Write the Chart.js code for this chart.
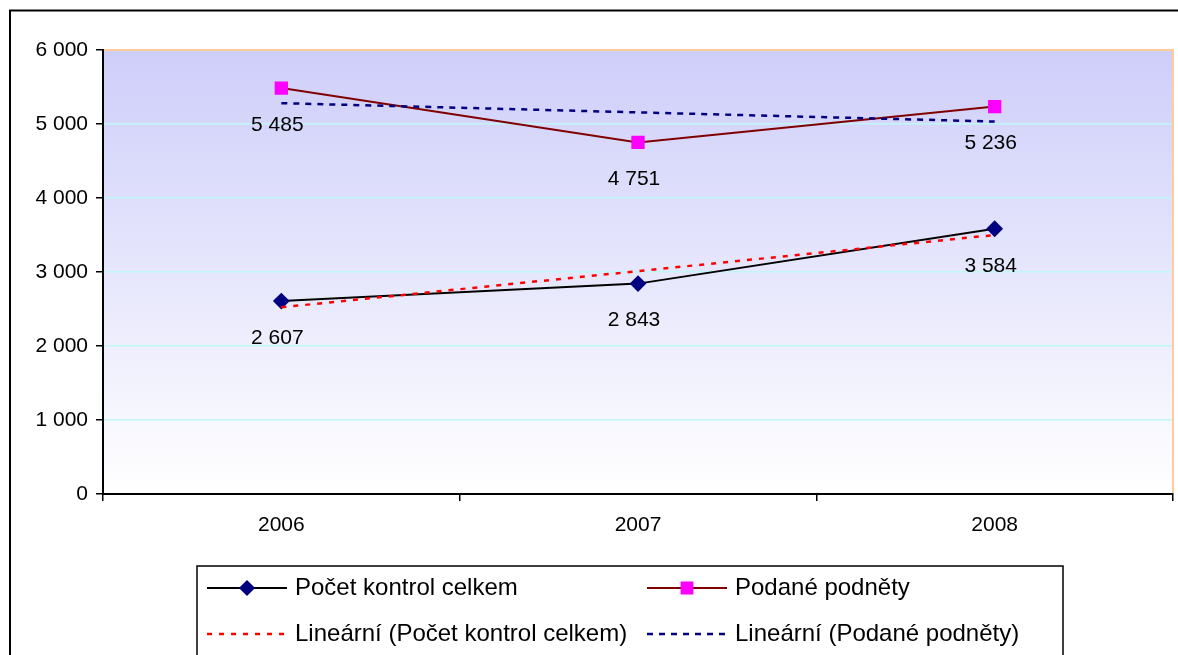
<!DOCTYPE html>
<html>
<head>
<meta charset="utf-8">
<script src="https://cdn.jsdelivr.net/npm/chart.js@4"></script>
<style>
  html, body { margin: 0; padding: 0; background: #fff; overflow: hidden; }
  #wrap { width: 1178px; height: 655px; position: relative; }
  canvas { display: block; }
</style>
</head>
<body>
<div id="wrap"><canvas id="chart"></canvas></div>
<script>
const years = ["2006", "2007", "2008"];
const pocetKontrol = [2607, 2843, 3584];
const podanePodnety = [5485, 4751, 5236];
// linear trend values
const trendPocet = [2523, 3012, 3500];
const trendPodane = [5282, 5157, 5033];
const yTicks = [0, 1000, 2000, 3000, 4000, 5000, 6000];

const FONT = '"Liberation Sans", Arial, sans-serif';

function fmt(v) {
  return String(v).replace(/\B(?=(\d{3})+(?!\d))/g, " ");
}

// plot background, frame, outer border
const backgroundPlugin = {
  id: "plotBackground",
  beforeDraw(chart) {
    const { ctx, chartArea: a } = chart;
    ctx.save();
    const g = ctx.createLinearGradient(0, a.top, 0, a.bottom);
    g.addColorStop(0, "rgb(206, 206, 250)");
    g.addColorStop(1, "rgb(255, 255, 255)");
    ctx.fillStyle = g;
    ctx.fillRect(a.left, a.top, a.right - a.left, a.bottom - a.top);
    ctx.restore();
  },
  afterDraw(chart) {
    const { ctx, chartArea: a } = chart;
    ctx.save();
    ctx.strokeStyle = "#ffcc99";
    ctx.lineWidth = 2;
    ctx.beginPath();
    ctx.moveTo(a.left + 1, a.top);
    ctx.lineTo(a.right, a.top);
    ctx.lineTo(a.right, a.bottom - 1);
    ctx.stroke();
    // outer chart border
    ctx.strokeStyle = "#000";
    ctx.lineWidth = 2;
    ctx.strokeRect(10, 10.5, 1200, 700);
    ctx.restore();
  },
};

// value labels under the two main series
const labelPlugin = {
  id: "valueLabels",
  afterDatasetsDraw(chart) {
    const { ctx } = chart;
    ctx.save();
    ctx.font = "21px " + FONT;
    ctx.fillStyle = "#000";
    ctx.textAlign = "center";
    ctx.textBaseline = "middle";
    [0, 1].forEach((di) => {
      const meta = chart.getDatasetMeta(di);
      const values = chart.data.datasets[di].data;
      meta.data.forEach((pt, i) => {
        ctx.fillText(fmt(values[i]), pt.x - 4, pt.y + 37);
      });
    });
    ctx.restore();
  },
};

// legend box at the bottom, two columns
const legendPlugin = {
  id: "boxLegend",
  afterDraw(chart) {
    const { ctx } = chart;
    const ds = chart.data.datasets;
    ctx.save();
    ctx.strokeStyle = "#000";
    ctx.lineWidth = 1.5;
    ctx.strokeRect(197, 566, 866, 200);

    const cols = [207, 647];
    const rows = [588, 634];
    ctx.font = "24px " + FONT;
    ctx.textBaseline = "middle";
    ds.forEach((d, i) => {
      const x = cols[i % 2];
      const y = rows[Math.floor(i / 2)];
      ctx.save();
      ctx.strokeStyle = d.borderColor;
      ctx.lineWidth = d.borderWidth;
      ctx.setLineDash(d.borderDash || []);
      ctx.beginPath();
      ctx.moveTo(x, y);
      ctx.lineTo(x + 80, y);
      ctx.stroke();
      ctx.restore();
      if (d.pointRadius > 0) {
        ctx.fillStyle = d.pointBackgroundColor;
        ctx.strokeStyle = d.pointBackgroundColor;
        Chart.helpers.drawPoint(ctx, {
          pointStyle: d.pointStyle,
          radius: d.pointRadius,
          borderWidth: 1,
          rotation: 0,
        }, x + 40, y);
      }
      ctx.fillStyle = "#000";
      ctx.fillText(d.label, x + 88, y);
    });
    ctx.restore();
  },
};

new Chart(document.getElementById("chart"), {
  type: "line",
  data: {
    labels: years,
    datasets: [
      {
        label: "Počet kontrol celkem",
        data: pocetKontrol,
        borderColor: "#000000",
        borderWidth: 2,
        pointStyle: "rectRot",
        pointRadius: 7,
        pointBackgroundColor: "#000080",
        pointBorderColor: "#000080",
        tension: 0,
        order: 3,
      },
      {
        label: "Podané podněty",
        data: podanePodnety,
        borderColor: "#800000",
        borderWidth: 2,
        pointStyle: "rect",
        pointRadius: 8,
        pointBackgroundColor: "#ff00ff",
        pointBorderColor: "#ff00ff",
        tension: 0,
        order: 4,
      },
      {
        label: "Lineární (Počet kontrol celkem)",
        data: trendPocet,
        borderColor: "#ff0000",
        borderWidth: 2.5,
        borderDash: [5, 7],
        pointRadius: 0,
        tension: 0,
        order: 1,
      },
      {
        label: "Lineární (Podané podněty)",
        data: trendPodane,
        borderColor: "#000080",
        borderWidth: 2.5,
        borderDash: [6, 6],
        pointRadius: 0,
        tension: 0,
        order: 2,
      },
    ],
  },
  options: {
    responsive: true,
    maintainAspectRatio: false,
    animation: false,
    layout: {
      autoPadding: false,
      padding: { left: 10, top: 50, right: 5, bottom: 0 },
    },
    plugins: {
      legend: { display: false },
      tooltip: { enabled: false },
    },
    scales: {
      x: {
        offset: true,
        grid: {
          offset: true,
          drawOnChartArea: false,
          drawTicks: true,
          tickLength: 7,
          tickColor: "#000",
          lineWidth: 1.5,
        },
        border: { color: "#000", width: 2 },
        ticks: {
          color: "#000",
          font: { family: FONT, size: 21 },
          padding: 12,
          maxRotation: 0,
        },
        afterFit(scale) {
          scale.height = 161;
        },
      },
      y: {
        min: 0,
        max: 6000,
        afterBuildTicks(scale) {
          scale.ticks = yTicks.map((v) => ({ value: v }));
        },
        grid: {
          color: "#bff7f7",
          lineWidth: 1.5,
          tickLength: 7,
          tickColor: "#000",
        },
        border: { color: "#000", width: 2 },
        ticks: {
          color: "#000",
          font: { family: FONT, size: 21 },
          padding: 8,
          callback: (v) => fmt(v),
        },
        afterFit(scale) {
          scale.width = 93;
        },
      },
    },
  },
  plugins: [backgroundPlugin, labelPlugin, legendPlugin],
});
</script>
</body>
</html>
